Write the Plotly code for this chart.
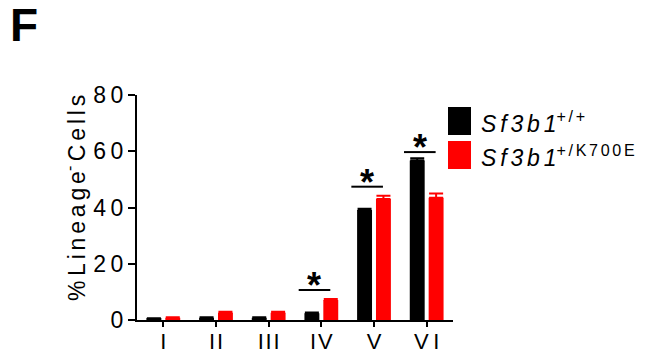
import plotly.graph_objects as go

categories = ["I", "II", "III", "IV", "V", "VI"]
tick_labels = ["I", "I\u200aI", "I\u200aI\u200aI", "I\u200aV", "V", "V\u2009I"]
wt_values = [0.4, 0.8, 0.8, 2.4, 39.1, 56.7]
wt_err = [0.2, 0.2, 0.2, 0.3, 0.5, 0.8]
mut_values = [0.8, 2.6, 2.6, 7.1, 43.0, 43.5]
mut_err = [0.2, 0.3, 0.3, 0.4, 1.2, 1.5]
sig_categories = [3, 4, 5]
sig_levels = [10.7, 47.4, 59.7]
y_ticks = [0, 20, 40, 60, 80]
y_tick_labels = ["0", "2\u20090", "4\u20090", "6\u20090", "8\u20090"]

FONT = "Arial, 'Liberation Sans', sans-serif"
x = list(range(len(categories)))
SP = "\u2006"

def spaced(s):
    return SP.join(list(s))

fig = go.Figure()
fig.add_trace(go.Bar(
    x=x, y=wt_values, name="Sf3b1 +/+", marker_color="black", marker_line_width=0,
    error_y=dict(type="data", array=wt_err, arrayminus=[0]*6, symmetric=False,
                 color="black", thickness=2, width=7),
))
fig.add_trace(go.Bar(
    x=x, y=mut_values, name="Sf3b1 +/K700E", marker_color="#ff0000", marker_line_width=0,
    error_y=dict(type="data", array=mut_err, arrayminus=[0]*6, symmetric=False,
                 color="#ff0000", thickness=2, width=7),
))

shapes = []
annotations = []
for c, lvl in zip(sig_categories, sig_levels):
    shapes.append(dict(type="line", xref="x", yref="y", x0=c - 0.43, x1=c + 0.17,
                       y0=lvl, y1=lvl, line=dict(color="black", width=2)))
    annotations.append(dict(x=c - 0.13, y=lvl, xref="x", yref="y", text="<b>*</b>",
                            showarrow=False, yanchor="bottom", yshift=-18,
                            font=dict(family=FONT, size=36, color="black")))

# Legend (manual)
def px2x(px):
    return (px - 137) / 316.0

def py2y(py):
    return (320 - py) / 225.0

shapes.append(dict(type="rect", xref="paper", yref="paper", x0=px2x(448), x1=px2x(471),
                   y0=py2y(135), y1=py2y(107), fillcolor="black", line=dict(width=0)))
shapes.append(dict(type="rect", xref="paper", yref="paper", x0=px2x(448), x1=px2x(471),
                   y0=py2y(169), y1=py2y(141), fillcolor="#ff0000", line=dict(width=0)))
annotations.append(dict(x=px2x(479), y=py2y(139), xref="paper", yref="paper",
                        xanchor="left", yanchor="bottom", showarrow=False,
                        text="<i>" + spaced("Sf3b1") + "</i><sup>" + spaced("+/+") + "</sup>",
                        font=dict(family=FONT, size=23, color="black")))
annotations.append(dict(x=px2x(479), y=py2y(173), xref="paper", yref="paper",
                        xanchor="left", yanchor="bottom", showarrow=False,
                        text="<i>" + spaced("Sf3b1") + "</i><sup>" + spaced("+/K700E") + "</sup>",
                        font=dict(family=FONT, size=23, color="black")))

# Y axis title
annotations.append(dict(x=px2x(75), y=py2y(198), xref="paper", yref="paper",
                        textangle=-90, showarrow=False, xanchor="center", yanchor="middle",
                        text=spaced("%") + "\u2009" + spaced("Lineage") + "<sup>-</sup>\u2009" + spaced("Cells"),
                        font=dict(family=FONT, size=23, color="black")))
# Panel label
annotations.append(dict(x=px2x(8), y=py2y(-3), xref="paper", yref="paper",
                        xanchor="left", yanchor="top", showarrow=False, text="<b>F</b>",
                        font=dict(family=FONT, size=46, color="black")))

fig.update_layout(
    width=657, height=357, autosize=False,
    margin=dict(l=137, r=204, t=95, b=37, pad=0, autoexpand=False),
    plot_bgcolor="white", paper_bgcolor="white",
    barmode="group", bargap=0.283, bargroupgap=0.21,
    showlegend=False,
    font=dict(family=FONT, size=23, color="black"),
    shapes=shapes, annotations=annotations,
    xaxis=dict(range=[-0.5, 5.5], tickvals=x, ticktext=tick_labels, showline=True,
               linecolor="black", linewidth=2, ticks="outside", ticklen=5, tickwidth=2,
               tickcolor="black", showgrid=False, zeroline=False, automargin=False,
               ticklabelstandoff=-4,
               tickfont=dict(family=FONT, size=22, color="black")),
    yaxis=dict(range=[0, 80], tickvals=y_ticks, ticktext=y_tick_labels, showline=True,
               linecolor="black", linewidth=2, ticks="outside", ticklen=7, tickwidth=2,
               tickcolor="black", showgrid=False, zeroline=False, automargin=False,
               tickfont=dict(family=FONT, size=23, color="black")),
)

fig.write_html("out.html")
